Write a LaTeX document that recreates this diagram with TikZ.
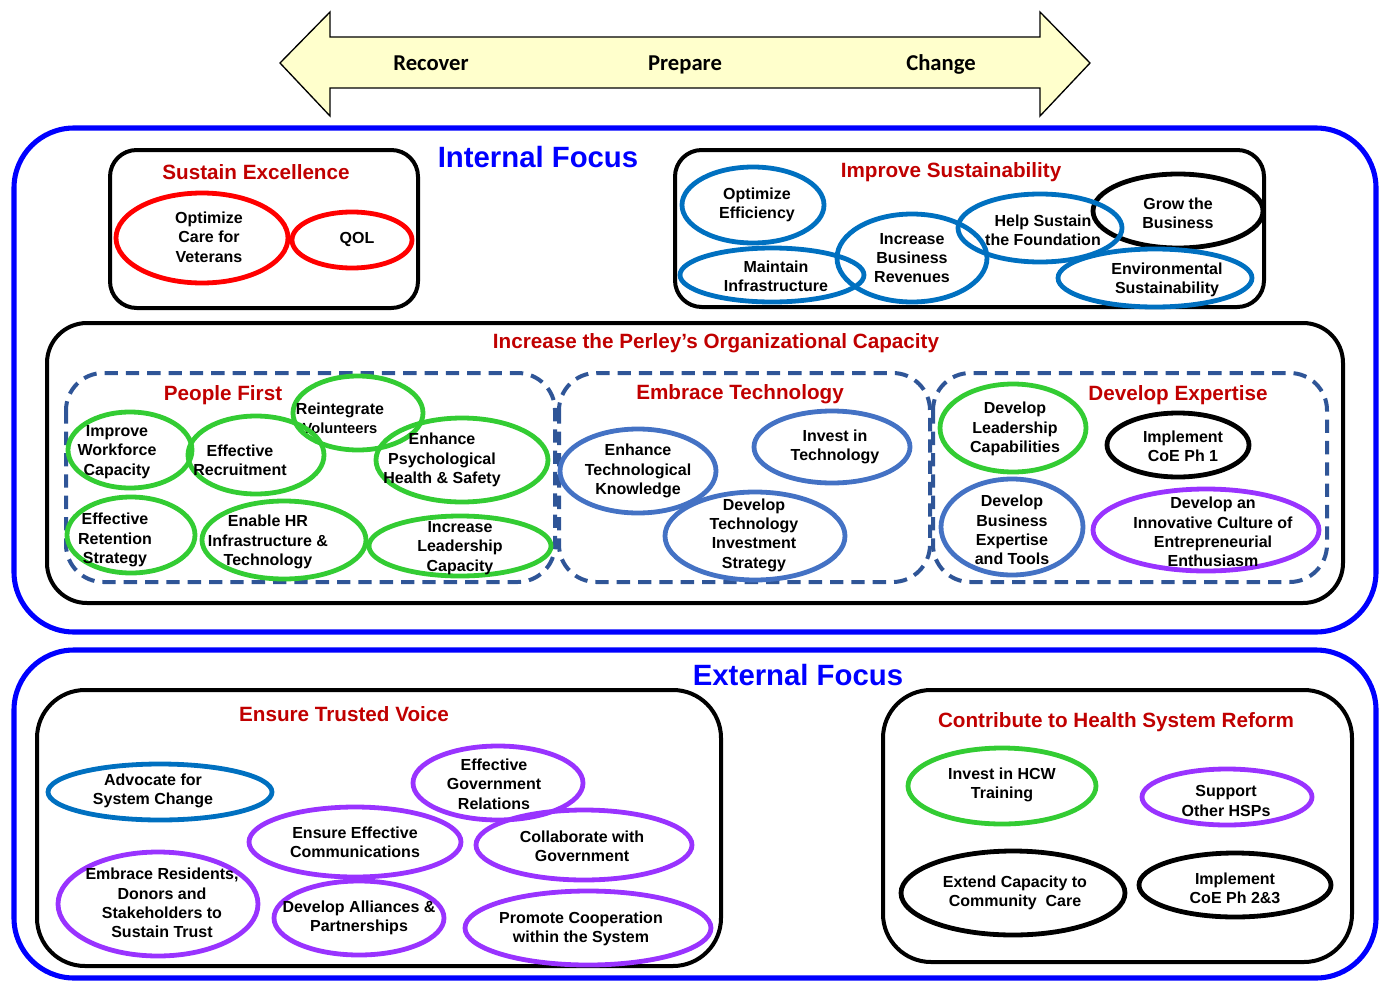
\documentclass[tikz,border=0pt]{standalone}
\usepackage{fontspec}
\setmainfont{Liberation Sans}
\newfontfamily\phasefont{Carlito}
\definecolor{titlered}{HTML}{C00000}
\definecolor{focusblue}{HTML}{0000FF}
\definecolor{dashblue}{HTML}{2F5597}
\definecolor{seablue}{HTML}{0070C0}
\definecolor{techblue}{HTML}{4472C4}
\definecolor{goalred}{HTML}{FF0000}
\definecolor{goalgreen}{HTML}{33CC33}
\definecolor{goalpurple}{HTML}{9933FF}
\definecolor{arrowyellow}{HTML}{FFFFCC}
\begin{document}
\begin{tikzpicture}[x=0.75pt,y=-0.75pt,
goaltext/.style={align=center,inner sep=0pt,font=\bfseries\fontsize{12}{14.5}\selectfont},
heading/.style={text=titlered,inner sep=0pt,text height=11pt,text depth=0pt,font=\bfseries\fontsize{15.5}{18}\selectfont},
focus/.style={text=focusblue,inner sep=0pt,text height=15.8pt,text depth=0pt,font=\bfseries\fontsize{22}{26}\selectfont},
phase/.style={inner sep=0pt,text height=10.7pt,text depth=0pt,font=\phasefont\bfseries\fontsize{17}{20}\selectfont},
frame/.style={draw=focusblue,line width=3.8pt,rounded corners=45pt},
area/.style={draw=black,line width=3pt,rounded corners=20pt},
theme/.style={draw=dashblue,line width=3pt,dash pattern=on 10pt off 6pt,rounded corners=28pt}]
\useasboundingbox (0,0) rectangle (1384,981);
% one goal: name, colour, ellipse centre, x radius, y radius, text centre, text
\def\goal#1#2#3#4#5#6#7{
\draw[#2,line width=3.6pt] (#3) ellipse [x radius=#4,y radius=#5];
\node[goaltext] (#1) at (#6) {#7};
}
% phase arrow
\filldraw[fill=arrowyellow,draw=black,line width=1pt]
(280,63) -- (330,12) -- (330,37) -- (1040,37) -- (1040,12) -- (1090,63)
-- (1040,116) -- (1040,88) -- (330,88) -- (330,116) -- cycle;
\foreach \x/\t in {431/Recover,685/Prepare,941/Change}{
\node[phase] (\t) at (\x,63) {\t};
}
% internal focus
\draw[frame] (14,128) rectangle (1376,632);
\node[focus] (internal) at (538,157) {Internal Focus};
\draw[area] (110,150) rectangle (418,308);
\node[heading] (sustain) at (256,172) {Sustain Excellence};
\goal{veterans}{goalred}{202,238}{86}{45}{209,237}{Optimize\\Care for\\Veterans}
\goal{qol}{goalred}{352,240}{60}{28}{357,239}{QOL}
\draw[area] (675,150) rectangle (1264,307);
\node[heading] (improve) at (951,170) {Improve Sustainability};
\goal{efficiency}{seablue}{753,205}{71}{38}{757,205}{Optimize\\Efficiency}
\goal{grow}{black}{1178,211}{85}{37}{1178,213}{Grow the\\Business}
\goal{infra}{seablue}{772,275}{92}{27}{776,276}{Maintain\\Infrastructure}
\goal{revenue}{seablue}{912,258}{75}{44}{912,258}{Increase\\Business\\Revenues}
\goal{foundation}{seablue}{1040,228}{82}{34}{1043,230}{Help Sustain\\the Foundation}
\goal{environment}{seablue}{1155,278}{97}{29}{1167,280}{Environmental\\Sustainability}
\draw[area,rounded corners=30pt] (47,323) rectangle (1343,603);
\node[heading] (capacity) at (716,341) {Increase the Perley’s Organizational Capacity};
% people first
\draw[theme] (66,373) rectangle (555,582);
\node[heading] (people) at (223,393) {People First};
\goal{volunteers}{goalgreen}{358,413}{65}{37}{340,418}{Reintegrate\\{\fontsize{11}{13}\selectfont Volunteers}}
\goal{workforce}{goalgreen}{130,450}{62}{38}{117,452}{Improve\\Workforce\\Capacity}
\goal{recruit}{goalgreen}{256,455}{68}{39}{240,460}{Effective\\Recruitment}
\goal{health}{goalgreen}{462,460}{86}{42}{442,460}{Enhance\\Psychological\\Health \& Safety}
\goal{retention}{goalgreen}{131,535}{64}{38}{115,540}{Effective\\Retention\\Strategy}
\goal{hr}{goalgreen}{284,540}{82}{39}{268,542}{Enable HR\\Infrastructure \&\\Technology}
\goal{leaders}{goalgreen}{460,546}{91}{30}{460,548}{Increase\\Leadership\\Capacity}
% embrace technology
\draw[theme] (559,373) rectangle (930,582);
\node[heading] (tech) at (740,392) {Embrace Technology};
\goal{knowledge}{techblue}{638,471}{78}{42}{638,471}{Enhance\\Technological\\Knowledge}
\goal{investtech}{techblue}{832,447}{78}{36}{835,447}{Invest in\\Technology}
\goal{techplan}{techblue}{755,536}{90}{44}{754,535}{Develop\\Technology\\Investment\\Strategy}
% develop expertise
\draw[theme] (933,373) rectangle (1327,582);
\node[heading] (expertise) at (1178,393) {Develop Expertise};
\goal{leadership}{goalgreen}{1013,428}{73}{44}{1015,429}{Develop\\Leadership\\Capabilities}
\goal{coe}{black}{1178,445}{71}{32}{1183,446}{Implement\\CoE Ph 1}
\goal{business}{techblue}{1012,527}{71}{48}{1012,530}{Develop\\Business\\Expertise\\and Tools}
\goal{innovate}{goalpurple}{1206,530}{113}{41}{1213,532}{Develop an\\Innovative Culture of\\Entrepreneurial\\Enthusiasm}
% external focus
\draw[frame] (14,650) rectangle (1376,978);
\node[focus] (external) at (798,675) {External Focus};
\draw[area,rounded corners=36pt] (37,690) rectangle (721,966);
\node[heading] (voice) at (344,714) {Ensure Trusted Voice};
\goal{advocate}{seablue}{160,792}{112}{28}{153,791}{Advocate for\\System Change}
\goal{relations}{goalpurple}{498,783}{85}{37}{494,784}{Effective\\Government\\Relations}
\goal{comms}{goalpurple}{355,842}{106}{35}{355,842}{Ensure Effective\\Communications}
\goal{collab}{goalpurple}{584,845}{108}{35}{582,846}{Collaborate with\\Government}
\goal{trust}{goalpurple}{158,904}{100}{52}{162,903}{Embrace Residents,\\Donors and\\Stakeholders to\\Sustain Trust}
\goal{alliances}{goalpurple}{359,918}{85}{37}{359,918}{Develop Alliances \&\\Partnerships}
\goal{cooperate}{goalpurple}{588,928}{123}{37}{581,929}{Promote Cooperation\\within the System}
\draw[area,rounded corners=36pt] (883,690) rectangle (1352,962);
\node[heading] (reform) at (1116,720) {Contribute to Health System Reform};
\goal{hcw}{goalgreen}{1002,786}{94}{38}{1002,785}{Invest in HCW\\Training}
\goal{hsps}{goalpurple}{1227,797}{85}{28}{1226,801}{Support\\Other HSPs}
\goal{community}{black}{1013,893}{112}{42}{1015,893}{Extend Capacity to\\Community\ \ Care}
\goal{coetwo}{black}{1235,885}{96}{32}{1235,888}{Implement\\CoE Ph 2\&3}
\end{tikzpicture}
\end{document}
